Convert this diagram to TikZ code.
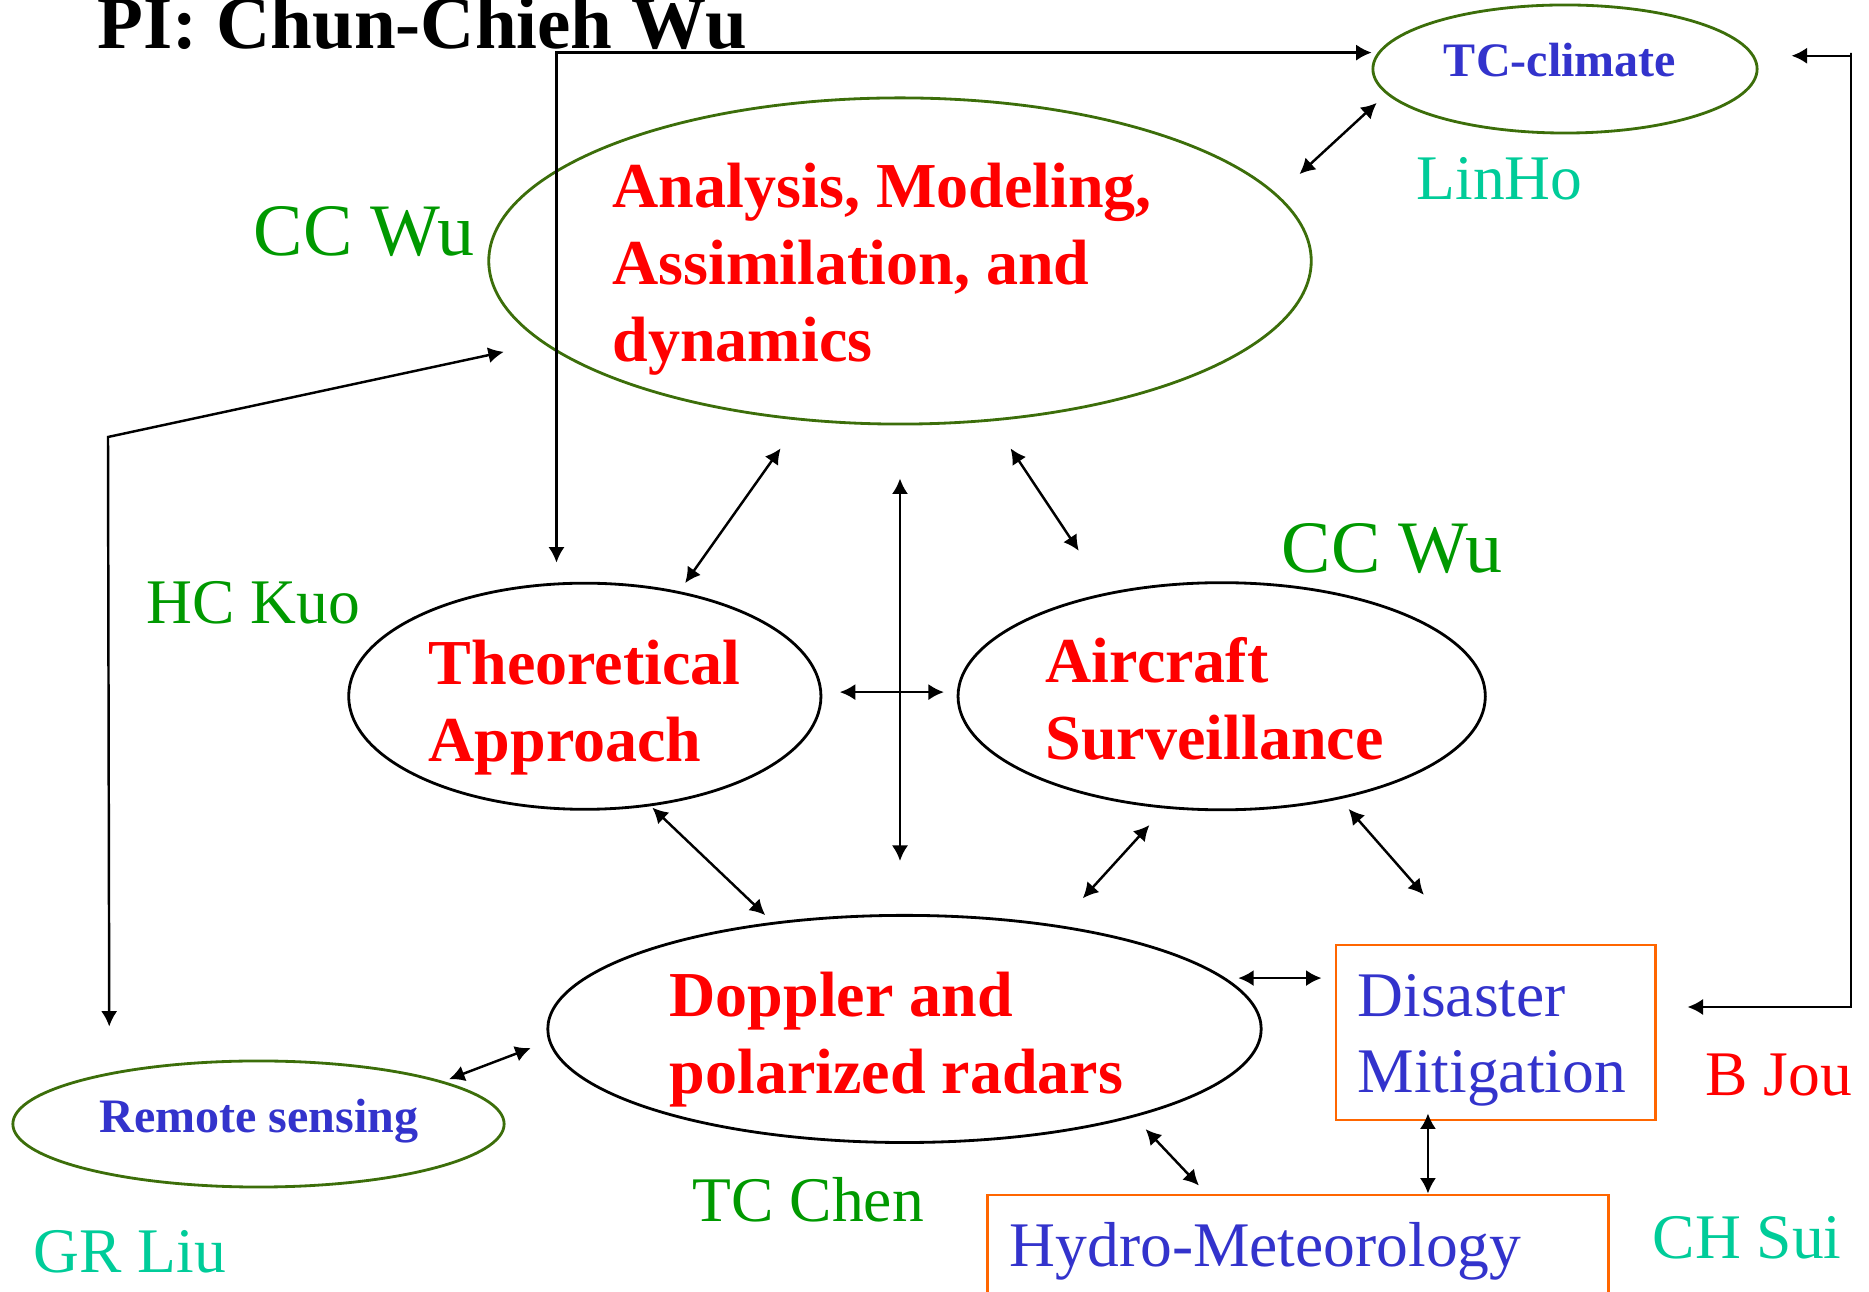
\documentclass[tikz,border=0pt]{standalone}
\usepackage{fontspec}
\setmainfont{Liberation Serif}
\usepackage{tikz}
\usetikzlibrary{arrows.meta,positioning,shapes.geometric}
\definecolor{topicred}{RGB}{255,0,0}
\definecolor{fieldblue}{RGB}{51,51,204}
\definecolor{namegreen}{RGB}{0,153,0}
\definecolor{nameteal}{RGB}{0,204,153}
\definecolor{ovalgreen}{RGB}{60,110,10}
\definecolor{boxorange}{RGB}{255,102,0}

\begin{document}
\begin{tikzpicture}[
    x=0.01cm, y=-0.01cm,
    >={Latex[length=4.4pt, width=4.6pt]},
    link/.style={<->, line width=0.7pt},
    oval/.style={
		ellipse,
		draw=black,
		line width=0.8pt,
		inner sep=0pt
	},
    greenoval/.style={oval, draw=ovalgreen},
    box/.style={
		rectangle,
		draw=boxorange,
		line width=0.8pt,
		inner sep=0pt
	},
    topic/.style={anchor=base west, inner sep=0pt, align=left, text=topicred,
		font=\fontsize{18.21pt}{21.91pt}\selectfont\bfseries},
    field/.style={anchor=base west, inner sep=0pt, align=left, text=fieldblue,
		font=\fontsize{18.07pt}{21.62pt}\selectfont},
    smallfield/.style={anchor=base, inner sep=0pt, text=fieldblue,
		font=\fontsize{13.66pt}{16pt}\selectfont\bfseries},
    person/.style={anchor=base west, inner sep=0pt,
		font=\fontsize{18.07pt}{21.62pt}\selectfont},
    bigperson/.style={person, text=namegreen,
		font=\fontsize{21.05pt}{25pt}\selectfont}
  ]
  \useasboundingbox (0,0) rectangle (1869,1292);

  % We start by placing the ovals and boxes
  \node [greenoval, minimum width=8.22cm, minimum height=3.26cm] (analysis) at (900,261) {};
  \node [oval, minimum width=4.72cm, minimum height=2.26cm,
         below of=analysis, node distance=4.35cm, xshift=-3.15cm] (theo) {};
  \node [oval, minimum width=5.27cm, minimum height=2.27cm,
         right of=theo, node distance=6.365cm] (aircraft) {};
  \node [oval, minimum width=7.13cm, minimum height=2.27cm,
         below of=analysis, node distance=7.675cm, xshift=0.045cm] (doppler) {};
  \node [greenoval, minimum width=3.84cm, minimum height=1.28cm] (tcclimate) at (1565,69) {};
  \node [greenoval, minimum width=4.91cm, minimum height=1.26cm] (remote) at (258.5,1124) {};
  \node [box, minimum width=3.19cm, minimum height=1.75cm] (disaster) at (1495.5,1032.5) {};
  \node [box, minimum width=6.20cm, minimum height=1.30cm] (hydro) at (1298,1260) {};

  \coordinate (kinkl) at (108,437);
  \coordinate (kinkr) at (1851,53);

  % texts (base = last line)
  \node [anchor=base west, inner sep=0pt, font=\fontsize{21.34pt}{25pt}\selectfont\bfseries] (title) at (97,49) {PI: Chun-Chieh Wu};
  \node [topic] (analysistxt) at (612,362) {Analysis, Modeling,\\Assimilation, and\\dynamics};
  \node [topic] (theotxt) at (428,762) {Theoretical\\Approach};
  \node [topic] (aircrafttxt) at (1045,760) {Aircraft\\Surveillance};
  \node [topic] (dopplertxt) at (669,1094) {Doppler and\\polarized radars};
  \node [field] (disastertxt) at (1357,1093) {Disaster\\Mitigation};
  \node [field] (hydrotxt) at (1009,1267) {Hydro-Meteorology};
  \node [smallfield] (climatetxt) at (1560,77) {TC-climate};
  \node [smallfield] (remotetxt) at (259,1133) {Remote sensing};

  \node [bigperson] (wuleft) at (253,256) {CC Wu};
  \node [bigperson] (wuright) at (1281,573) {CC Wu};
  \node [person, text=namegreen] (kuo) at (146,624) {HC Kuo};
  \node [person, text=namegreen] (chen) at (692,1222) {TC Chen};
  \node [person, text=nameteal] (linho) at (1416,200) {LinHo};
  \node [person, text=nameteal] (liu) at (33,1273) {GR Liu};
  \node [person, text=nameteal] (sui) at (1652,1258) {CH Sui};
  \node [person, text=topicred] (jou) at (1705,1096) {B Jou};

  % links
  \draw [link, shorten <=0.30cm, shorten >=0.13cm] (analysis.10.7) -- (tcclimate.188.2);
  \draw [link, shorten <=0.34cm, shorten >=0.10cm] (analysis.238.6) -- (theo.48.8);
  \draw [link, shorten <=0.325cm, shorten >=0.503cm] (analysis.300.9) -- (aircraft.138.9);
  \draw [link, shorten <=0.53cm, shorten >=0.53cm] (analysis.south) -- (analysis.south |- doppler.north);
  \draw [link, shorten <=0.176cm, shorten >=0.127cm] (theo.1.95) -- (theo.1.95 -| aircraft.west);
  \draw [link, shorten <=0.02cm, shorten >=0.10cm] (theo.301.5) -- (doppler.141.7);
  \draw [link, shorten <=0.224cm, shorten >=0.362cm] (aircraft.243.1) -- (doppler.34);
  \draw [link, shorten <=0.13cm, shorten >=0.648cm] (aircraft.319.3) -- (disaster.108.4);
  \draw [link, shorten <=0.126cm, shorten >=0.13cm] (doppler.9.57) -- (doppler.9.57 -| disaster.west);
  \draw [link, shorten <=0.165cm, shorten >=0.111cm] (doppler.339) -- (hydro.144.6);
  \draw [link] ([xshift=-0.675cm, yshift=0.08cm]disaster.south) -- ([xshift=-0.675cm]disaster.south |- hydro.north);
  \draw [link, shorten <=0.06cm, shorten >=0.19cm] (remote.13.7) -- (doppler.182.9);
  \draw [link, shorten <=0.46cm, shorten >=0.40cm] (remote.161.6) -- (kinkl) -- (analysis.193.7);
  \draw [link, shorten <=0.20cm, shorten >=0.06cm] (theo.104) |- (tcclimate.175.1);
  \draw [link, shorten <=0.31cm, shorten >=0.37cm] (disaster.9.43) -| (kinkr) |- (tcclimate.4.92);

\end{tikzpicture}
\end{document}
